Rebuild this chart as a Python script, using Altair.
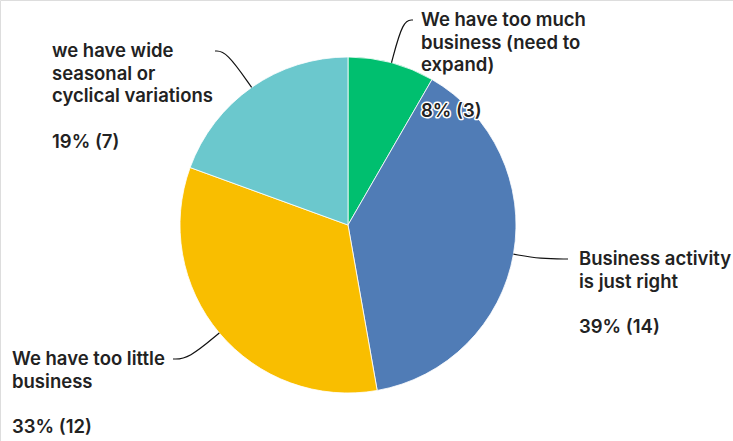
import math
import altair as alt
import pandas as pd

# ---- data ----
categories = [
    "We have too much business (need to expand)",
    "Business activity is just right",
    "We have too little business",
    "we have wide seasonal or cyclical variations",
]
label_lines = [
    ["We have too much", "business (need to", "expand)"],
    ["Business activity", "is just right"],
    ["We have too little", "business"],
    ["we have wide", "seasonal or", "cyclical variations"],
]
counts = [3, 14, 12, 7]
colors = ["#00BF6F", "#507CB6", "#F9BE00", "#6BC8CD"]

# ---- layout ----
W, H = 733, 441
CX, CY, R = 348, 225, 168
# label block anchor (left x, first baseline y) and leader-line end x
label_x = [421, 579, 12, 52]
label_y = [26, 265, 365, 57]
leader_end_x = [413, 568, 173, 215]
LINE_H = 22.7

total = sum(counts)
rows, lines, texts = [], [], []
cum = 0
for i, (cat, n) in enumerate(zip(categories, counts)):
    pct = round(100 * n / total)
    mid = 2 * math.pi * (cum + n / 2) / total
    cum += n
    rows.append({"cat": cat, "n": n, "order": i})
    # leader line: from pie edge at mid-angle, bending to horizontal at label
    sx = CX + R * math.sin(mid)
    sy = CY - R * math.cos(mid)
    ey = label_y[i] - 6
    t = (ey - sy) / (-math.cos(mid))
    cx_ = sx + t * math.sin(mid)
    for k, (px, py) in enumerate([(sx, sy), (cx_, ey), (leader_end_x[i], ey)]):
        lines.append({"cat": cat, "k": k, "px": px, "py": py})
    for j, line in enumerate(label_lines[i]):
        texts.append({"px": label_x[i], "py": label_y[i] + j * LINE_H, "txt": line})
    texts.append({"px": label_x[i],
                  "py": label_y[i] + (len(label_lines[i]) + 1) * LINE_H,
                  "txt": f"{pct}% ({n})"})

df = pd.DataFrame(rows)
ldf = pd.DataFrame(lines)
tdf = pd.DataFrame(texts)

xs = alt.Scale(domain=[0, W], range=[0, W], nice=False, zero=False)
ys = alt.Scale(domain=[0, H], range=[0, H], nice=False, zero=False)

pie = alt.Chart(df).mark_arc(
    radius=R, x=CX, y=CY, stroke="#ffffff", strokeWidth=0.8
).encode(
    theta=alt.Theta("n:Q", stack=True),
    order=alt.Order("order:Q"),
    color=alt.Color("cat:N", scale=alt.Scale(domain=categories, range=colors), legend=None),
)

leaders = alt.Chart(ldf).mark_line(
    color="#111111", strokeWidth=1.2, interpolate="basis"
).encode(
    x=alt.X("px:Q", scale=xs, axis=None),
    y=alt.Y("py:Q", scale=ys, axis=None),
    detail="cat:N",
    order="k:Q",
)

font = "Inter"
FS = 18.5
halo = alt.Chart(tdf).mark_text(
    align="left", baseline="alphabetic", font=font, fontSize=FS, fontWeight=600,
    fill="#ffffff", stroke="#ffffff", strokeWidth=3, strokeJoin="round",
).encode(
    x=alt.X("px:Q", scale=xs, axis=None),
    y=alt.Y("py:Q", scale=ys, axis=None),
    text="txt:N",
)
labels = alt.Chart(tdf).mark_text(
    align="left", baseline="alphabetic", font=font, fontSize=FS, fontWeight=600,
    color="#222222",
).encode(
    x=alt.X("px:Q", scale=xs, axis=None),
    y=alt.Y("py:Q", scale=ys, axis=None),
    text="txt:N",
)

chart = alt.layer(pie, leaders, halo, labels).properties(
    width=W, height=H, padding=0, autosize=alt.AutoSizeParams(type="none")
).configure_view(stroke=None).configure(background="#ffffff")

chart.save("out.html", embed_options={"renderer": "svg", "actions": False})
